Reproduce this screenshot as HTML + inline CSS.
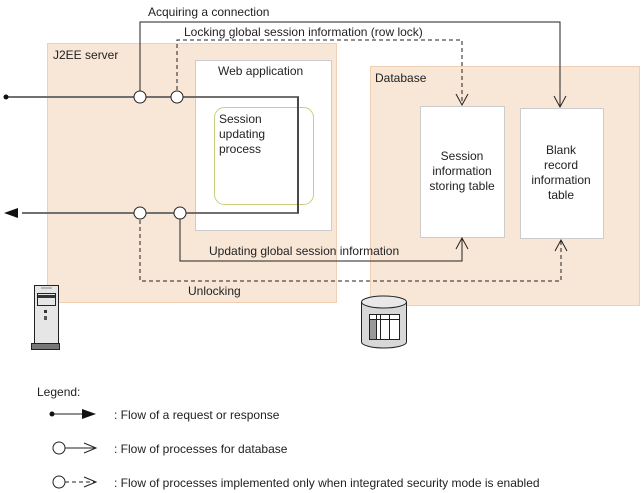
<!DOCTYPE html>
<html><head><meta charset="utf-8"><style>
html,body{margin:0;padding:0;background:#fff}
svg{display:block}
text{font-family:"Liberation Sans",sans-serif;font-size:12px;fill:#222}
</style></head><body>
<svg width="643" height="493" viewBox="0 0 643 493" xmlns="http://www.w3.org/2000/svg">
<defs>
<marker id="oa" markerWidth="14" markerHeight="14" refX="12" refY="7" orient="auto" markerUnits="userSpaceOnUse"><path d="M1,1 L12,7 L1,13" fill="none" stroke="#222" stroke-width="1"/></marker>
</defs>
<rect x="47.5" y="43.5" width="289" height="259" fill="#f8e6d6" stroke="#f1cfb2"/>
<rect x="370.5" y="66.5" width="269" height="239" fill="#f8e6d6" stroke="#f1cfb2"/>
<rect x="195.5" y="60.5" width="136" height="170" fill="#fff" stroke="#ccc"/>
<rect x="214.5" y="107.5" width="99" height="97" rx="10" fill="#fff" stroke="#c8cf78"/>
<rect x="420.5" y="106.5" width="84" height="131" fill="#fff" stroke="#ccc"/>
<rect x="520.5" y="108.5" width="83" height="130" fill="#fff" stroke="#ccc"/>
<text x="53" y="59">J2EE server</text>
<text x="375" y="82">Database</text>
<text x="218" y="75">Web application</text>
<text x="219" y="123">Session</text>
<text x="219" y="138">updating</text>
<text x="219" y="153">process</text>
<text x="462" y="160" text-anchor="middle">Session</text>
<text x="462" y="175" text-anchor="middle">information</text>
<text x="462" y="190" text-anchor="middle">storing table</text>
<text x="561" y="154" text-anchor="middle">Blank</text>
<text x="561" y="169" text-anchor="middle">record</text>
<text x="561" y="184" text-anchor="middle">information</text>
<text x="561" y="199" text-anchor="middle">table</text>
<polyline points="140,97 140,22 560,22 560,107" fill="none" stroke="#222" stroke-width="1" marker-end="url(#oa)"/>
<polyline points="177,97 177,40 462,40 462,105" fill="none" stroke="#222" stroke-width="1" stroke-dasharray="4,3" marker-end="url(#oa)"/>
<polyline points="180,213 180,261 462,261 462,238" fill="none" stroke="#222" stroke-width="1" marker-end="url(#oa)"/>
<polyline points="140,213 140,281 561,281 561,240" fill="none" stroke="#222" stroke-width="1" stroke-dasharray="4,3" marker-end="url(#oa)"/>
<text x="148" y="16">Acquiring a connection</text>
<text x="184" y="36">Locking global session information (row lock)</text>
<text x="209" y="255">Updating global session information</text>
<text x="188" y="295">Unlocking</text>
<polyline points="6,97 298,97 298,213 22,213" fill="none" stroke="#707070" stroke-width="2"/>
<line x1="298" y1="97" x2="298" y2="213" stroke="#222" stroke-width="1"/>
<circle cx="6" cy="97" r="2.5" fill="#111"/>
<path d="M4,213 L18,208 L18,218 Z" fill="#111"/>
<circle cx="140" cy="97" r="6" fill="#fff" stroke="#222"/>
<circle cx="177" cy="97" r="6" fill="#fff" stroke="#222"/>
<circle cx="140" cy="213" r="6" fill="#fff" stroke="#222"/>
<circle cx="180" cy="213" r="6" fill="#fff" stroke="#222"/>
<rect x="34.5" y="285.5" width="24" height="58" fill="#e6e6e6" stroke="#222"/>
<rect x="37.5" y="293.5" width="18" height="12" fill="#e6e6e6" stroke="#222"/>
<rect x="38" y="295" width="17" height="3" fill="#333"/>
<line x1="41" y1="288" x2="52" y2="288" stroke="#888"/>
<rect x="44" y="310" width="3" height="3" fill="#333"/>
<rect x="44" y="316" width="3" height="4" fill="#555"/>
<rect x="31.5" y="343.5" width="28" height="6" fill="#777" stroke="#222"/>
<path d="M361.5,302 L361.5,342 A22.5,6 0 0 0 406.5,342 L406.5,302" fill="#d8d8d8" stroke="#222"/>
<ellipse cx="384" cy="302" rx="22.5" ry="6" fill="#e8e8e8" stroke="#222"/>
<rect x="369.5" y="314.5" width="30" height="25" fill="#fff" stroke="#222"/>
<rect x="370" y="319" width="6" height="20" fill="#999"/>
<line x1="369.5" y1="319.5" x2="399.5" y2="319.5" stroke="#222"/>
<line x1="376.5" y1="314.5" x2="376.5" y2="339.5" stroke="#222"/>
<line x1="380.5" y1="314.5" x2="380.5" y2="339.5" stroke="#222"/>
<line x1="389.5" y1="314.5" x2="389.5" y2="339.5" stroke="#222"/>
<text x="37" y="396">Legend:</text>
<line x1="52" y1="414" x2="84" y2="414" stroke="#222"/>
<circle cx="52" cy="414" r="2.5" fill="#111"/>
<path d="M82,409 L96,414 L82,419 Z" fill="#111"/>
<text x="114" y="419">: Flow of a request or response</text>
<circle cx="59" cy="448" r="6" fill="#fff" stroke="#222"/>
<line x1="65" y1="448" x2="96" y2="448" stroke="#222"/>
<path d="M84,443 L96,448 L84,453" fill="none" stroke="#222"/>
<text x="114" y="453">: Flow of processes for database</text>
<circle cx="59" cy="482" r="6" fill="#fff" stroke="#222"/>
<line x1="65" y1="482" x2="96" y2="482" stroke="#222" stroke-dasharray="4,3"/>
<path d="M84,477 L96,482 L84,487" fill="none" stroke="#222"/>
<text x="114" y="487">: Flow of processes implemented only when integrated security mode is enabled</text>
</svg>
</body></html>
